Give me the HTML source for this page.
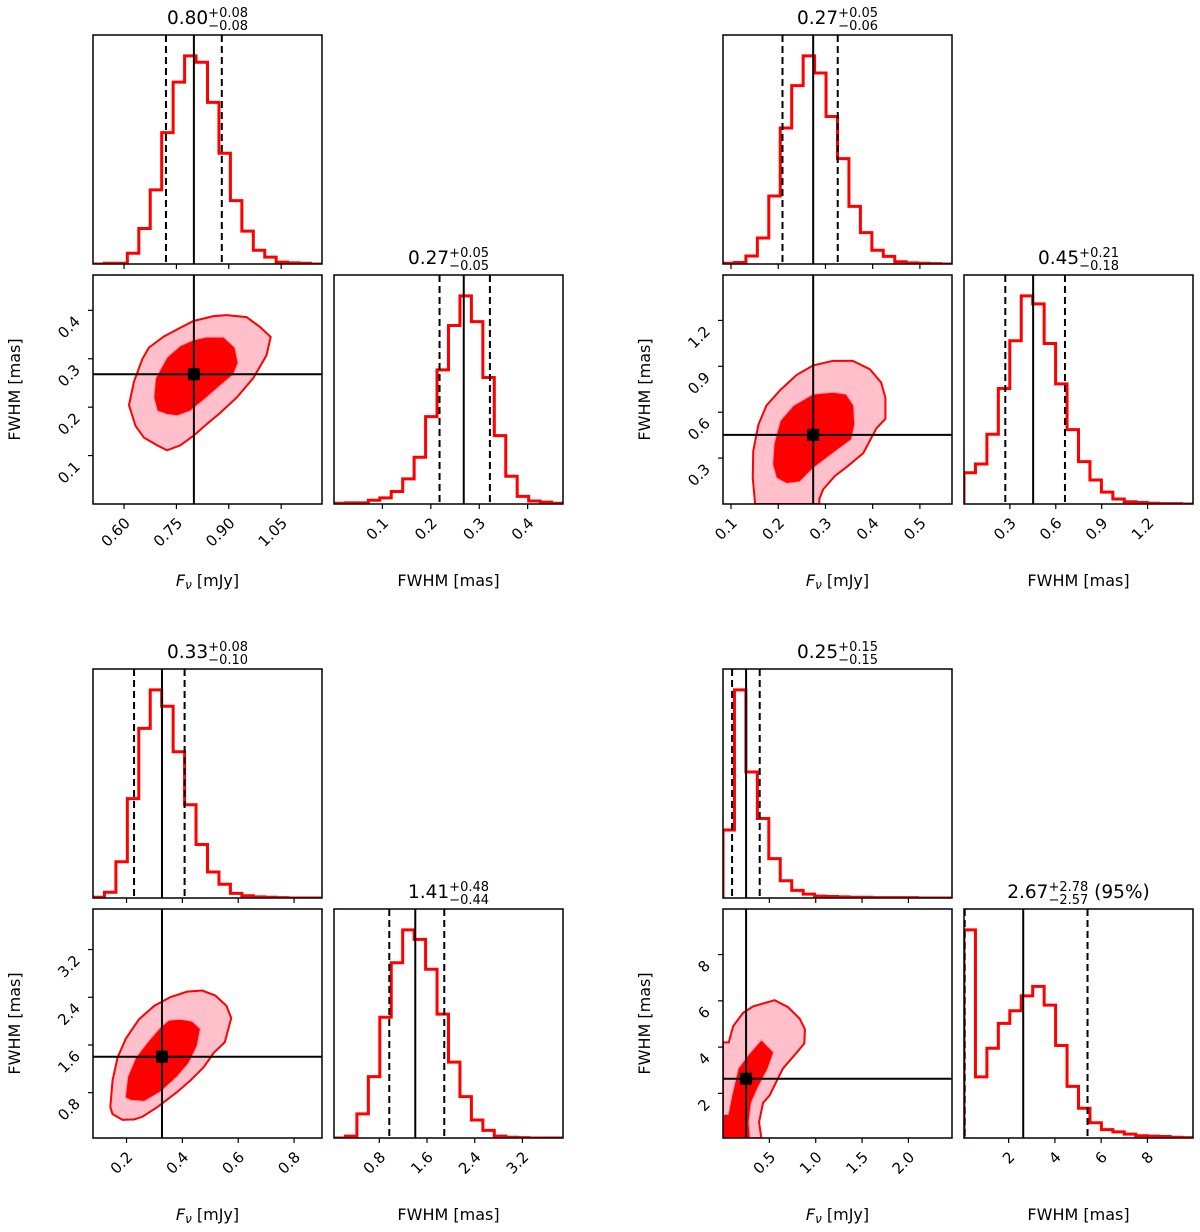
<!DOCTYPE html>
<html><head><meta charset="utf-8">
<style>
html,body{margin:0;padding:0;background:#fff;}
svg{display:block;font-family:"DejaVu Sans","Liberation Sans",sans-serif;}
</style></head>
<body>
<svg id="fig" width="1200" height="1232" viewBox="0 0 1200 1232" xmlns="http://www.w3.org/2000/svg"></svg>
<script>
// ---------- Panel 1 data ----------
const p1FluxHist = [0,2,2,28,93,194,344,476,545,528,423,290,166,86,36,18,5,3,2,0];
const p1FwhmHist = [2,3,3,10,16,33,66,123,230,353,470,548,480,333,180,73,20,8,5,2];
const p1FluxQ = [0.72,0.80,0.88];
const p1FwhmQ = [0.218,0.268,0.322];
const p1FluxTicks = [0.60,0.75,0.90,1.05];
const p1FluxTickLabels = ["0.60","0.75","0.90","1.05"];
const p1FwhmTicks = [0.1,0.2,0.3,0.4];
const p1FwhmTickLabels = ["0.1","0.2","0.3","0.4"];
const p1Outer = [[0.614,0.204],[0.628,0.252],[0.652,0.299],[0.671,0.323],[0.714,0.346],[0.761,0.364],[0.799,0.378],[0.856,0.388],[0.894,0.390],[0.951,0.386],[0.989,0.366],[1.020,0.345],[1.008,0.307],[0.970,0.260],[0.923,0.220],[0.875,0.188],[0.837,0.165],[0.799,0.141],[0.761,0.121],[0.723,0.111],[0.695,0.121],[0.657,0.137],[0.633,0.161]];
const p1Inner = [[0.685,0.220],[0.690,0.260],[0.723,0.303],[0.761,0.327],[0.799,0.339],[0.837,0.345],[0.885,0.345],[0.918,0.323],[0.927,0.291],[0.913,0.267],[0.875,0.244],[0.837,0.220],[0.790,0.192],[0.752,0.182],[0.723,0.185],[0.695,0.192]];
const p1Titles = [["0.80","+0.08","\u22120.08",""],["0.27","+0.05","\u22120.05",""]];

// ---------- Panel 2 data ----------
const p2FluxHist = [2,4,21,68,178,356,467,545,500,386,276,151,82,36,20,6,3,2,1,0];
const p2FwhmHist = [82,105,183,303,428,546,525,421,315,195,111,63,31,13,6,4,2,1,1,0];
const p2FluxQ = [0.209,0.274,0.326];
const p2FwhmQ = [0.27,0.452,0.66];
const p2FluxTicks = [0.1,0.2,0.3,0.4,0.5];
const p2FluxTickLabels = ["0.1","0.2","0.3","0.4","0.5"];
const p2FwhmTicks = [0.3,0.6,0.9,1.2];
const p2FwhmTickLabels = ["0.3","0.6","0.9","1.2"];
const p2Outer = [[0.151,0.0],[0.146,0.170],[0.147,0.345],[0.158,0.519],[0.175,0.644],[0.204,0.744],[0.239,0.844],[0.274,0.906],[0.316,0.936],[0.358,0.936],[0.394,0.881],[0.418,0.794],[0.427,0.694],[0.427,0.557],[0.408,0.495],[0.380,0.332],[0.344,0.240],[0.320,0.183],[0.295,0.095],[0.287,0.033],[0.287,0.0]];
const p2Inner = [[0.188,0.258],[0.191,0.395],[0.204,0.544],[0.232,0.644],[0.274,0.719],[0.316,0.731],[0.344,0.719],[0.360,0.644],[0.362,0.519],[0.355,0.420],[0.316,0.332],[0.274,0.233],[0.246,0.145],[0.218,0.133],[0.196,0.170]];
const p2Titles = [["0.27","+0.05","\u22120.06",""],["0.45","+0.21","\u22120.18",""]];

// ---------- Panel 3 data ----------
const p3FluxHist = [2,15,95,260,444,545,502,383,244,140,68,36,12,6,3,2,1,0,0,0];
const p3FwhmHist = [0,5,63,160,315,457,543,518,440,323,198,108,47,20,5,2,1,0,0,0];
const p3FluxQ = [0.227,0.327,0.408];
const p3FwhmQ = [0.967,1.403,1.889];
const p3FluxTicks = [0.2,0.4,0.6,0.8];
const p3FluxTickLabels = ["0.2","0.4","0.6","0.8"];
const p3FwhmTicks = [0.8,1.6,2.4,3.2];
const p3FwhmTickLabels = ["0.8","1.6","2.4","3.2"];
const p3Outer = [[0.142,0.556],[0.150,1.005],[0.168,1.390],[0.198,1.711],[0.245,2.032],[0.299,2.256],[0.358,2.404],[0.417,2.494],[0.471,2.513],[0.518,2.429],[0.558,2.256],[0.575,2.051],[0.552,1.647],[0.512,1.467],[0.477,1.230],[0.429,1.005],[0.382,0.813],[0.310,0.556],[0.257,0.396],[0.227,0.351],[0.186,0.345],[0.150,0.441]];
const p3Inner = [[0.195,0.717],[0.204,1.069],[0.233,1.390],[0.275,1.647],[0.322,1.903],[0.352,2.019],[0.394,2.032],[0.435,2.000],[0.465,1.871],[0.453,1.583],[0.423,1.294],[0.382,1.069],[0.322,0.813],[0.263,0.652],[0.215,0.672]];
const p3Titles = [["0.33","+0.08","\u22120.10",""],["1.41","+0.48","\u22120.44",""]];

// ---------- Panel 4 data ----------
const p4FluxHist = [178,545,330,208,103,45,20,10,5,4,3,2,2,1,1,1,1,0,0,0];
const p4FwhmHist = [545,160,235,300,333,372,397,348,242,135,78,40,22,16,10,6,5,4,2,1];
const p4FluxQ = [0.098,0.249,0.396];
const p4FwhmQ = [0.10,2.63,5.41];
const p4FluxTicks = [0.5,1.0,1.5,2.0];
const p4FluxTickLabels = ["0.5","1.0","1.5","2.0"];
const p4FwhmTicks = [2,4,6,8];
const p4FwhmTickLabels = ["2","4","6","8"];
const p4Outer = [[0.0,0.061],[0.0,4.204],[0.062,4.204],[0.109,4.900],[0.216,5.480],[0.324,5.761],[0.557,6.027],[0.701,5.728],[0.827,5.231],[0.884,4.767],[0.877,4.154],[0.773,3.657],[0.647,3.077],[0.575,2.497],[0.504,1.917],[0.432,1.586],[0.389,0.757],[0.414,0.061]];
const p4Inner = [[0.0,0.061],[0.0,1.089],[0.055,1.089],[0.091,1.834],[0.163,3.077],[0.270,3.657],[0.414,4.320],[0.547,3.773],[0.486,3.077],[0.378,2.249],[0.306,1.586],[0.281,0.757],[0.295,0.061]];
const p4Titles = [["0.25","+0.15","\u22120.15",""],["2.67","+2.78","\u22122.57","\u00a0(95%)"]];

const panels = [
 {id:1, ox:93, oy:35, fx:[0.511,1.167], fw:[0.0,0.473], fh:p1FluxHist, wh:p1FwhmHist, fq:p1FluxQ, wq:p1FwhmQ, ft:p1FluxTicks, ftl:p1FluxTickLabels, wt:p1FwhmTicks, wtl:p1FwhmTickLabels, outer:p1Outer, inner:p1Inner, titles:p1Titles},
 {id:2, ox:723, oy:35, fx:[0.083,0.568], fw:[0.0,1.497], fh:p2FluxHist, wh:p2FwhmHist, fq:p2FluxQ, wq:p2FwhmQ, ft:p2FluxTicks, ftl:p2FluxTickLabels, wt:p2FwhmTicks, wtl:p2FwhmTickLabels, outer:p2Outer, inner:p2Inner, titles:p2Titles},
 {id:3, ox:93, oy:669, fx:[0.08,0.90], fw:[0.04,3.88], fh:p3FluxHist, wh:p3FwhmHist, fq:p3FluxQ, wq:p3FwhmQ, ft:p3FluxTicks, ftl:p3FluxTickLabels, wt:p3FwhmTicks, wtl:p3FwhmTickLabels, outer:p3Outer, inner:p3Inner, titles:p3Titles},
 {id:4, ox:723, oy:669, fx:[0.0,2.47], fw:[0.07,9.97], fh:p4FluxHist, wh:p4FwhmHist, fq:p4FluxQ, wq:p4FwhmQ, ft:p4FluxTicks, ftl:p4FluxTickLabels, wt:p4FwhmTicks, wtl:p4FwhmTickLabels, outer:p4Outer, inner:p4Inner, titles:p4Titles}
];

const NS = "http://www.w3.org/2000/svg";
const svg = document.getElementById('fig');
function mk(tag, attrs, parent){
  const e = document.createElementNS(NS, tag);
  for (const k in attrs) e.setAttribute(k, attrs[k]);
  (parent||svg).appendChild(e);
  return e;
}
const W = 229, H = 229, GAP = 11;
const RED = "#ff0000", PINK = "#ffc0cb";
const TICKFS = 15;

function scale(d0,d1,r0,r1){ return v => r0 + (v-d0)/(d1-d0)*(r1-r0); }

function drawHist(g, x0, y0, range, counts, q, clipId){
  const sx = scale(range[0], range[1], x0, x0+W);
  const mx = Math.max(...counts)*1.1;
  const sy = v => y0+H - v/mx*H;
  const n = counts.length, bw = (range[1]-range[0])/n;
  let d = "M"+sx(range[0])+","+sy(0);
  for (let i=0;i<n;i++){
    const a = range[0]+i*bw, b = a+bw;
    d += " L"+sx(a)+","+sy(counts[i])+" L"+sx(b)+","+sy(counts[i]);
  }
  d += " L"+sx(range[1])+","+sy(0);
  const p = mk('path',{d:d, fill:'none', stroke:RED, 'stroke-width':3, 'clip-path':'url(#'+clipId+')'}, g);
  
  
  q.forEach((v,i)=>{
    const l = mk('line',{x1:sx(v),x2:sx(v),y1:y0,y2:y0+H,stroke:'#000','stroke-width':2,'stroke-dasharray':i===1?'none':'7,4','clip-path':'url(#'+clipId+')'}, g);
    
    
  });
  return sx;
}

function frame(g, x, y, name){
  const r = mk('rect',{x:x,y:y,width:W,height:H,fill:'none',stroke:'#000','stroke-width':1.5}, g);
  
  
}
function clip(id,x,y){
  const defs = mk('defs',{});
  const c = mk('clipPath',{id:id}, defs);
  mk('rect',{x:x,y:y,width:W,height:H}, c);
}
function xTicks(g, sx, ticks, labels, yb, withLabels){
  ticks.forEach((t,i)=>{
    const x = sx(t);
    const tk = mk('line',{x1:x,x2:x,y1:yb,y2:yb+5,stroke:'#000','stroke-width':1.2}, g);
    
    
    if (withLabels){
      const ax = x+7, ay = yb+20;
      const t2 = mk('text',{x:ax,y:ay,'font-size':TICKFS,'text-anchor':'end',transform:'rotate(-45 '+ax+' '+ay+')'}, g);
      t2.textContent = labels[i];
      
      
    }
  });
}
function yTicks(g, sy, ticks, labels, xl){
  ticks.forEach((t,i)=>{
    const y = sy(t);
    const tk = mk('line',{x1:xl-5,x2:xl,y1:y,y2:y,stroke:'#000','stroke-width':1.2}, g);
    
    
    const ax = xl-12, ay = y+12;
    const t2 = mk('text',{x:ax,y:ay,'font-size':TICKFS,'text-anchor':'end',transform:'rotate(-45 '+ax+' '+ay+')'}, g);
    t2.textContent = labels[i];
    
    
  });
}
function title(g, cx, top, parts){
  const tg = mk('g',{}, g);
  
  
  const m = mk('text',{x:0,y:top-11,'font-size':18.5}, tg); m.textContent = parts[0];
  const mw = m.getComputedTextLength();
  const s1 = mk('text',{x:mw,y:top-18,'font-size':13}, tg); s1.textContent = parts[1];
  const s2 = mk('text',{x:mw,y:top-5,'font-size':13}, tg); s2.textContent = parts[2];
  const sw = Math.max(s1.getComputedTextLength(), s2.getComputedTextLength());
  let tw = mw+sw;
  if (parts[3]){
    const s3 = mk('text',{x:mw+sw,y:top-11,'font-size':18.5}, tg); s3.textContent = parts[3];
    tw += s3.getComputedTextLength();
  }
  tg.setAttribute('transform','translate('+(cx-tw/2)+',0)');
}
function polyPath(pts, sx, sy){
  return pts.map((p,i)=>(i?'L':'M')+sx(p[0])+','+sy(p[1])).join(' ')+' Z';
}

panels.forEach(P=>{
  const g = mk('g',{});
  
  
  const tx = P.ox, ty = P.oy;
  const cx = P.ox, cy = P.oy+H+GAP;
  const rx = P.ox+W+GAP+1, ry = cy;
  clip('c1_'+P.id, tx, ty); clip('c2_'+P.id, cx, cy); clip('c3_'+P.id, rx, ry);

  const gt = mk('g',{}, g);
  
  
  const sxT = drawHist(gt, tx, ty, P.fx, P.fh, P.fq, 'c1_'+P.id);
  frame(gt, tx, ty, 'flux-histogram-frame');
  xTicks(gt, sxT, P.ft, P.ftl, ty+H, false);
  title(gt, tx+W/2, ty, P.titles[0]);

  const gc = mk('g',{}, g);
  
  
  const sx = scale(P.fx[0], P.fx[1], cx, cx+W);
  const sy = scale(P.fw[0], P.fw[1], cy+H, cy);
  const o = mk('path',{d:polyPath(P.outer,sx,sy), fill:PINK, stroke:'none','clip-path':'url(#c2_'+P.id+')'}, gc);
  
  
  const inn = mk('path',{d:polyPath(P.inner,sx,sy), fill:RED, stroke:'none','clip-path':'url(#c2_'+P.id+')'}, gc);
  
  
  const ol = mk('path',{d:polyPath(P.outer,sx,sy), fill:'none', stroke:RED,'stroke-width':2,'clip-path':'url(#c2_'+P.id+')'}, gc);
  
  
  const il = mk('path',{d:polyPath(P.inner,sx,sy), fill:'none', stroke:'#ff9aaa','stroke-width':1.2,'clip-path':'url(#c2_'+P.id+')'}, gc);
  
  
  const vx = sx(P.fq[1]), hy = sy(P.wq[1]);
  const vl = mk('line',{x1:vx,x2:vx,y1:cy,y2:cy+H,stroke:'#000','stroke-width':2}, gc);
  
  
  const hl = mk('line',{x1:cx,x2:cx+W,y1:hy,y2:hy,stroke:'#000','stroke-width':2}, gc);
  
  
  const mkr = mk('rect',{x:vx-6,y:hy-6,width:12,height:12,fill:'#000'}, gc);
  
  
  frame(gc, cx, cy, 'joint-panel-frame');
  xTicks(gc, sx, P.ft, P.ftl, cy+H, true);
  yTicks(gc, sy, P.wt, P.wtl, cx);

  const gr = mk('g',{}, g);
  
  
  const sxR = drawHist(gr, rx, ry, P.fw, P.wh, P.wq, 'c3_'+P.id);
  frame(gr, rx, ry, 'fwhm-histogram-frame');
  xTicks(gr, sxR, P.wt, P.wtl, ry+H, true);
  title(gr, rx+W/2, ry, P.titles[1]);

  const lx = mk('text',{x:cx+W/2,y:P.oy+551,'font-size':16,'text-anchor':'middle'}, g);
  
  
  const f = mk('tspan',{'font-style':'italic'}, lx); f.textContent = 'F';
  const nu = mk('tspan',{'font-size':12,dy:3,'font-style':'italic'}, lx); nu.textContent = '\u03bd';
  const rest = mk('tspan',{dy:-3}, lx); rest.textContent = ' [mJy]';
  const lx2 = mk('text',{x:rx+W/2,y:P.oy+551,'font-size':16,'text-anchor':'middle'}, g);
  lx2.textContent = 'FWHM [mas]';
  
  
  const ly = P.oy+H+GAP+H/2, lxx = P.ox-73;
  const yl = mk('text',{x:lxx,y:ly,'font-size':16,'text-anchor':'middle',transform:'rotate(-90 '+lxx+' '+ly+')'}, g);
  yl.textContent = 'FWHM [mas]';
  
  
});
</script>
</body></html>
